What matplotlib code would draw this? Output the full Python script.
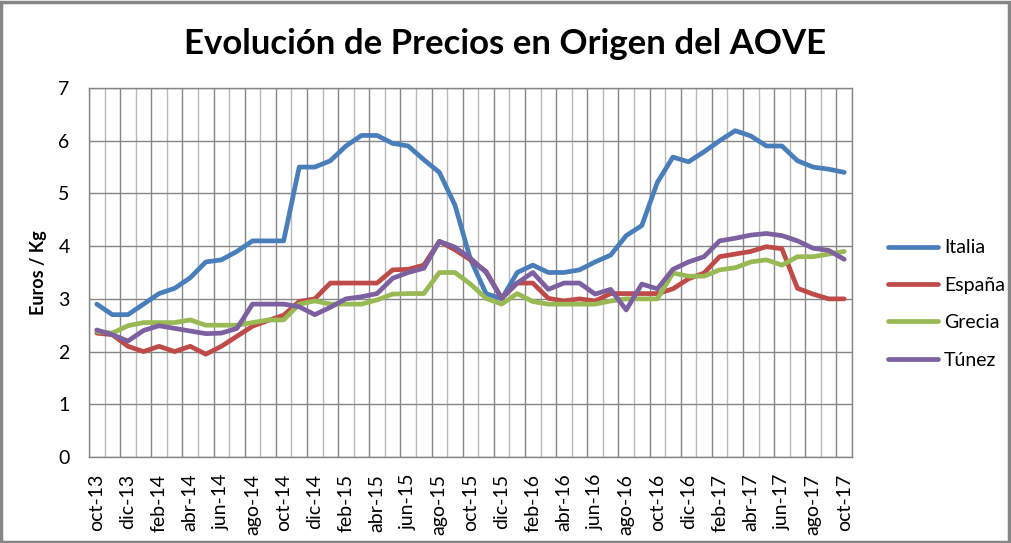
import matplotlib
matplotlib.use("Agg")
import matplotlib.pyplot as plt
from matplotlib.patches import Rectangle

months = ["oct-13", "nov-13", "dic-13", "ene-14", "feb-14", "mar-14", "abr-14", "may-14",
          "jun-14", "jul-14", "ago-14", "sep-14", "oct-14", "nov-14", "dic-14", "ene-15",
          "feb-15", "mar-15", "abr-15", "may-15", "jun-15", "jul-15", "ago-15", "sep-15",
          "oct-15", "nov-15", "dic-15", "ene-16", "feb-16", "mar-16", "abr-16", "may-16",
          "jun-16", "jul-16", "ago-16", "sep-16", "oct-16", "nov-16", "dic-16", "ene-17",
          "feb-17", "mar-17", "abr-17", "may-17", "jun-17", "jul-17", "ago-17", "sep-17",
          "oct-17"]

italia = [2.9, 2.7, 2.7, 2.9, 3.1, 3.2, 3.4, 3.7, 3.74, 3.9, 4.1, 4.1, 4.1, 5.5, 5.5, 5.62,
          5.9, 6.1, 6.1, 5.95, 5.9, 5.64, 5.4, 4.78, 3.75, 3.1, 3.0, 3.5, 3.64, 3.5, 3.5, 3.55,
          3.7, 3.83, 4.2, 4.39, 5.21, 5.69, 5.6, 5.79, 6.0, 6.19, 6.09, 5.9, 5.9, 5.62, 5.5,
          5.46, 5.4]
espana = [2.35, 2.32, 2.1, 2.0, 2.1, 2.0, 2.1, 1.95, 2.1, 2.29, 2.48, 2.59, 2.69, 2.95, 3.0,
          3.3, 3.3, 3.3, 3.3, 3.55, 3.56, 3.64, 4.09, 3.93, 3.74, 3.52, 3.01, 3.3, 3.3, 3.01,
          2.96, 3.0, 2.96, 3.1, 3.1, 3.1, 3.1, 3.19, 3.38, 3.49, 3.8, 3.85, 3.9, 3.99, 3.95,
          3.2, 3.09, 3.0, 3.0]
grecia = [2.38, 2.35, 2.49, 2.55, 2.55, 2.55, 2.6, 2.5, 2.5, 2.5, 2.55, 2.6, 2.6, 2.9, 2.96,
          2.9, 2.9, 2.9, 2.98, 3.09, 3.1, 3.1, 3.5, 3.5, 3.28, 3.01, 2.9, 3.1, 2.95, 2.9, 2.9,
          2.9, 2.9, 2.96, 3.0, 3.0, 3.0, 3.49, 3.43, 3.43, 3.55, 3.59, 3.7, 3.74, 3.64, 3.8,
          3.8, 3.85, 3.9]
tunez = [2.41, 2.32, 2.2, 2.4, 2.49, 2.44, 2.39, 2.34, 2.35, 2.44, 2.9, 2.9, 2.9, 2.85, 2.7,
         2.84, 3.0, 3.04, 3.1, 3.39, 3.5, 3.58, 4.09, 3.98, 3.77, 3.5, 3.01, 3.3, 3.5, 3.18,
         3.3, 3.3, 3.09, 3.18, 2.79, 3.28, 3.19, 3.56, 3.7, 3.8, 4.1, 4.15, 4.21, 4.24, 4.2,
         4.1, 3.96, 3.92, 3.75]

series = [("Italia", italia, "#4A7EBB"), ("España", espana, "#BE4B48"),
          ("Grecia", grecia, "#98B954"), ("Túnez", tunez, "#7D60A0")]

plt.rcParams['font.family'] = ['Lato', 'DejaVu Sans']

fig = plt.figure(figsize=(10.11, 5.43), dpi=100)
ax = fig.add_axes([89/1011, 1-457/543, (852-89)/1011, (457-88)/543])

x = list(range(len(months)))
n = len(months)
ax.set_xlim(-0.5, n - 0.5)
ax.set_ylim(0, 7)

# gridlines
for b in range(n + 1):
    pos = b - 0.5
    col = "#868686" if b % 2 == 0 else "#B8B8B8"
    ax.axvline(pos, color=col, lw=1.0, zorder=1)
for yv in range(0, 8):
    ax.axhline(yv, color="#868686", lw=1.0, zorder=1)

for name, vals, col in series:
    ax.plot(x, vals, color=col, lw=3.4, label=name, zorder=3, solid_capstyle='round',
            solid_joinstyle='round')

for s in ax.spines.values():
    s.set_color("#868686")
    s.set_linewidth(1.0)

ax.set_xticks(x[::2])
ax.set_xticklabels(months[::2], rotation=90, fontsize=14)
ax.set_yticks(range(0, 8))
ax.set_yticklabels([str(v) for v in range(0, 8)], fontsize=14)
ax.tick_params(axis='both', length=0)
ax.tick_params(axis='y', pad=14)
ax.tick_params(axis='x', pad=12)

ax.set_ylabel("Euros / Kg", fontsize=13, fontweight='bold', labelpad=8)

fig.text(0.5, 1 - 44/543, "Evolución de Precios en Origen del AOVE", ha='center', va='center',
         fontsize=25, fontweight='bold')

leg = fig.legend(loc='center left', bbox_to_anchor=(870/1011, 1 - 304/543), frameon=False,
                 fontsize=14, handlelength=2.6, labelspacing=1.05, handletextpad=0.3)

fig.patches.append(Rectangle((0.001, 0.002), 0.997, 0.995, transform=fig.transFigure,
                             fill=False, edgecolor="#868686", lw=2.5))

fig.savefig("out.png", dpi=100)
